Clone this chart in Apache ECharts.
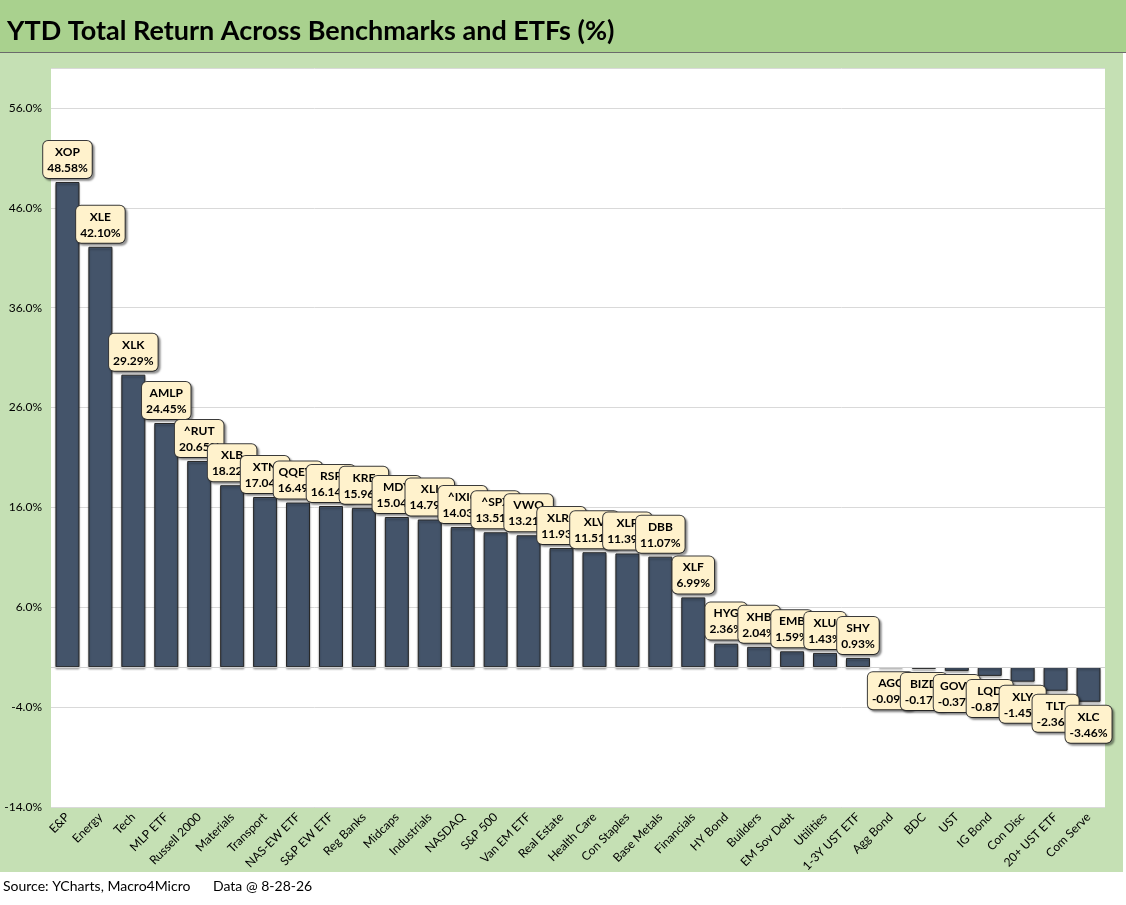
<!DOCTYPE html>
<html>
<head>
<meta charset="utf-8">
<title>YTD Total Return Across Benchmarks and ETFs</title>
<script src="https://cdn.jsdelivr.net/npm/echarts@6/dist/echarts.min.js"></script>
<style>
  html, body { margin: 0; padding: 0; background: #fff; }
  #chart { width: 1126px; height: 905px; }
</style>
</head>
<body>
<div id="chart"></div>
<script>
// 分类名称
var categories = ['E&P', 'Energy', 'Tech', 'MLP ETF', 'Russell 2000', 'Materials', 'Transport',
    'NAS-EW ETF', 'S&P EW ETF', 'Reg Banks', 'Midcaps', 'Industrials', 'NASDAQ', 'S&P 500',
    'Van EM ETF', 'Real Estate', 'Health Care', 'Con Staples', 'Base Metals', 'Financials',
    'HY Bond', 'Builders', 'EM Sov Debt', 'Utilities', '1-3Y UST ETF', 'Agg Bond', 'BDC',
    'UST', 'IG Bond', 'Con Disc', '20+ UST ETF', 'Com Serve'];

// 代码
var tickers = ['XOP', 'XLE', 'XLK', 'AMLP', '^RUT', 'XLB', 'XTN', 'QQEW', 'RSP', 'KRE', 'MDY',
    'XLI', '^IXIC', '^SPX', 'VWO', 'XLRE', 'XLV', 'XLP', 'DBB', 'XLF', 'HYG', 'XHB', 'EMB',
    'XLU', 'SHY', 'AGG', 'BIZD', 'GOVT', 'LQD', 'XLY', 'TLT', 'XLC'];

// 年初至今总回报 (%)
var returns = [48.58, 42.10, 29.29, 24.45, 20.65, 18.22, 17.04, 16.49, 16.14, 15.96, 15.04,
    14.79, 14.03, 13.51, 13.21, 11.93, 11.51, 11.39, 11.07, 6.99, 2.36, 2.04, 1.59,
    1.43, 0.93, -0.09, -0.17, -0.37, -0.87, -1.45, -2.36, -3.46];

// y轴刻度
var yMin = -14;
var yMax = 60;
var yStep = 10;

window.onload = function() {
    draw_chart();
}

function draw_chart() {
    var myChart = echarts.init(document.getElementById('chart'));
    var font = 'Lato, "Open Sans", sans-serif';

    var barData = returns.map(function(v, i) {
        return {
            value: v,
            ticker: tickers[i],
            label: { position: v < 0 ? 'bottom' : 'top' }
        };
    });

    var option = {
        animation: false,
        backgroundColor: '#ffffff',
        graphic: [
            { type: 'rect', left: 0, top: 0, shape: { width: 1126, height: 52 }, style: { fill: '#a9d18e' }, z: -10 },
            { type: 'rect', left: 0, top: 52, shape: { width: 1126, height: 1 }, style: { fill: '#6b6b6b' }, z: -9 },
            { type: 'rect', left: 0, top: 53, shape: { width: 1123, height: 819 }, style: { fill: '#c5e0b4' }, z: -10 },
            { type: 'text', left: 7, top: 18, style: { text: 'YTD Total Return Across Benchmarks and ETFs (%)',
                font: 'bold 27px ' + font, fill: '#000' }, z: 5 },
            { type: 'text', left: 3, top: 879, style: { text: 'Source: YCharts, Macro4Micro',
                font: '14px ' + font, fill: '#000' } },
            { type: 'text', left: 213, top: 879, style: { text: 'Data @ 8-28-26',
                font: '14px ' + font, fill: '#000' } }
        ],
        grid: {
            left: 51, right: 21, top: 68, bottom: 98,
            show: true, backgroundColor: '#ffffff', borderWidth: 0,
            containLabel: false
        },
        xAxis: {
            type: 'category',
            data: categories,
            axisLine: { show: false },
            axisTick: { show: false },
            axisLabel: {
                rotate: 45, interval: 0, margin: 8,
                fontFamily: font, fontSize: 12, color: '#000'
            }
        },
        yAxis: {
            type: 'value',
            min: yMin, max: yMax, interval: yStep,
            axisLine: { show: false },
            axisTick: { show: false },
            axisLabel: {
                showMaxLabel: false,
                fontFamily: font, fontSize: 12, color: '#000', margin: 9,
                formatter: function(v) { return v.toFixed(1) + '%'; }
            },
            splitLine: { lineStyle: { color: '#d9d9d9', width: 1 } }
        },
        series: [{
            type: 'bar',
            data: barData,
            barWidth: 24,
            itemStyle: {
                color: '#44546a',
                borderColor: '#262626',
                borderWidth: 1,
                shadowColor: 'rgba(0,0,0,0.3)',
                shadowOffsetY: 2,
                shadowBlur: 2
            },
            label: {
                show: true,
                distance: 4,
                formatter: function(p) {
                    return p.data.ticker + '\n' + p.value.toFixed(2) + '%';
                },
                fontFamily: font,
                fontSize: 12,
                fontWeight: 'bold',
                lineHeight: 16,
                color: '#000',
                align: 'center',
                backgroundColor: '#fff2cc',
                borderColor: '#3a3a3a',
                borderWidth: 1,
                borderRadius: 5,
                padding: [3, 4, 2, 4],
                shadowColor: 'rgba(0,0,0,0.35)',
                shadowOffsetX: 2,
                shadowOffsetY: 2,
                shadowBlur: 2
            },
            labelLayout: { hideOverlap: false },
            markLine: {
                silent: true,
                symbol: 'none',
                label: { show: false },
                lineStyle: { color: '#d0d0d0', type: 'solid', width: 1 },
                data: [{ yAxis: 0 }]
            }
        }]
    };

    myChart.setOption(option);
}
</script>
</body>
</html>
